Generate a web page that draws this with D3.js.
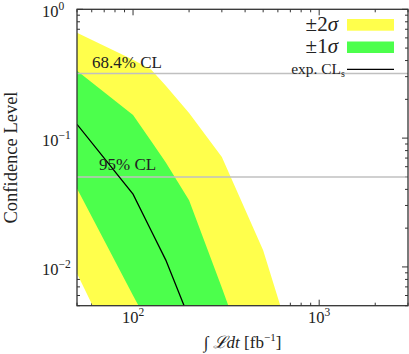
<!DOCTYPE html>
<html><head><meta charset="utf-8">
<script src="https://cdn.jsdelivr.net/npm/d3@7"></script>
<style>html,body{margin:0;padding:0;background:#fff;}svg{display:block;}</style>
</head><body>
<script>
// Integrated luminosity sample points (fb^-1)
const lumi   = [50, 100, 125, 150, 200, 300, 500, 700];
// +2 sigma / -2 sigma band edges
const up2    = [0.658, 0.405, 0.341, 0.255, 0.157, 0.0714, 0.0135, 0.0028];
const dn2    = [0.0089, 0.00113, 0.0006, 0.0003, 0.0001, 0.00003, 0.00001, 0.000003];
// +1 sigma / -1 sigma band edges
const up1    = [0.333, 0.151, 0.095, 0.0647, 0.033, 0.0069, 0.0009, 0.0003];
const dn1    = [0.0406, 0.0060, 0.0033, 0.0020, 0.0009, 0.0003, 0.0001, 0.00003];
// expected CLs median
const median = [0.128, 0.0367, 0.0192, 0.0113, 0.0040, 0.0008, 0.0001, 0.00003];
// reference CL lines
const clLines = [{v: 0.317, label: "68.4% CL"}, {v: 0.05, label: "95% CL"}];
const xMajor = [100, 1000];
const yMajor = [1, 0.1, 0.01];

const W = 409, H = 354;
const L = 77, T = 9.3, R = 408, B = 305.7;
const col2 = "#ffff4c", col1 = "#4cff4c", frame = "#333";

const svg = d3.select("body").append("svg").attr("width", W).attr("height", H);
const x = d3.scaleLog().domain([50, 3000]).range([L, R]);
const y = d3.scaleLog().domain([0.005, 1]).range([B, T]);

svg.append("clipPath").attr("id", "clip").append("rect")
  .attr("x", L).attr("y", T).attr("width", R - L).attr("height", B - T);

// ticks (drawn below fills)
const ticks = svg.append("g").attr("stroke", frame).attr("stroke-width", 1);
const xt = x.ticks().filter(v => v >= 50 && v <= 3000);
xt.forEach(v => {
  const major = xMajor.includes(v);
  const len = major ? 6 : 3;
  ticks.append("line").attr("x1", x(v)).attr("x2", x(v)).attr("y1", B).attr("y2", B - len);
  ticks.append("line").attr("x1", x(v)).attr("x2", x(v)).attr("y1", T).attr("y2", T + len);
});
const yt = y.ticks().filter(v => v >= 0.005 && v <= 1);
yt.forEach(v => {
  const major = yMajor.some(m => Math.abs(m - v) / m < 1e-6);
  const len = major ? 6 : 3;
  ticks.append("line").attr("y1", y(v)).attr("y2", y(v)).attr("x1", L).attr("x2", L + len);
  ticks.append("line").attr("y1", y(v)).attr("y2", y(v)).attr("x1", R).attr("x2", R - len);
});

const plot = svg.append("g").attr("clip-path", "url(#clip)");
const idx = d3.range(lumi.length);
const band = (lo, hi) => d3.area().x(i => x(lumi[i])).y0(i => y(lo[i])).y1(i => y(hi[i]));
plot.append("path").attr("d", band(dn2, up2)(idx)).attr("fill", col2);
plot.append("path").attr("d", band(dn1, up1)(idx)).attr("fill", col1);

clLines.forEach(c => {
  plot.append("line").attr("x1", L).attr("x2", R).attr("y1", y(c.v)).attr("y2", y(c.v))
    .attr("stroke", "#c0c0c0").attr("stroke-width", 1.5);
});
plot.append("path")
  .attr("d", d3.line().x(i => x(lumi[i])).y(i => y(median[i]))(idx))
  .attr("fill", "none").attr("stroke", "#000").attr("stroke-width", 1.3);

const font = "'Liberation Serif', 'Times New Roman', serif";
// CL labels
svg.append("text").attr("x", 92).attr("y", 68).attr("font-family", font).attr("font-size", 17)
  .attr("fill", "#222").text(clLines[0].label);
svg.append("text").attr("x", 99).attr("y", 170).attr("font-family", font).attr("font-size", 17)
  .attr("fill", "#222").text(clLines[1].label);

// frame
svg.append("rect").attr("x", L).attr("y", T).attr("width", R - L).attr("height", B - T)
  .attr("fill", "none").attr("stroke", frame).attr("stroke-width", 1.3);

// tick labels
xMajor.forEach(v => {
  const e = Math.round(Math.log10(v));
  const t = svg.append("text").attr("x", x(v)).attr("y", 323).attr("text-anchor", "middle")
    .attr("font-family", font).attr("font-size", 16.5).attr("fill", "#222");
  t.append("tspan").text("10");
  t.append("tspan").attr("font-size", 11.5).attr("dy", -7).text(String(e));
});
yMajor.forEach(v => {
  const e = Math.round(Math.log10(v));
  const t = svg.append("text").attr("x", 42).attr("y", y(v) + 7.7)
    .attr("font-family", font).attr("font-size", 16.5).attr("fill", "#222");
  t.append("tspan").text("10");
  t.append("tspan").attr("font-size", 11.5).attr("dy", -7).text(e === 0 ? "0" : "\u2212" + Math.abs(e));
});

// axis titles
const xl = svg.append("text").attr("x", (L + R) / 2).attr("y", 348).attr("text-anchor", "middle")
  .attr("font-family", font).attr("font-size", 17).attr("fill", "#222");
xl.append("tspan").text("\u222B ");
xl.append("tspan").attr("font-style", "italic").text("\u2112dt");
xl.append("tspan").text(" [fb");
xl.append("tspan").attr("font-size", 11).attr("dy", -7).text("\u22121");
xl.append("tspan").attr("dy", 7).text("]");

svg.append("text").attr("transform", `translate(17,${(T + B) / 2}) rotate(-90)`)
  .attr("text-anchor", "middle").attr("font-family", font).attr("font-size", 18.5)
  .attr("fill", "#222").text("Confidence Level");

// legend
const lg = svg.append("g");
lg.append("text").attr("x", 338).attr("y", 30.5).attr("text-anchor", "end")
  .attr("font-family", font).attr("font-size", 21).attr("fill", "#222")
  .html("\u00B12<tspan font-style='italic'>\u03C3</tspan>");
lg.append("rect").attr("x", 347).attr("y", 19).attr("width", 47).attr("height", 11.7).attr("fill", col2);
lg.append("text").attr("x", 338).attr("y", 52.5).attr("text-anchor", "end")
  .attr("font-family", font).attr("font-size", 21).attr("fill", "#222")
  .html("\u00B11<tspan font-style='italic'>\u03C3</tspan>");
lg.append("rect").attr("x", 347).attr("y", 41.5).attr("width", 47).attr("height", 11.5).attr("fill", col1);
const et = lg.append("text").attr("x", 345).attr("y", 73.5).attr("text-anchor", "end")
  .attr("font-family", font).attr("font-size", 15.5).attr("fill", "#222");
et.append("tspan").text("exp. CL");
et.append("tspan").attr("font-size", 10).attr("dy", 3).text("s");
lg.append("line").attr("x1", 347).attr("x2", 394).attr("y1", 69.3).attr("y2", 69.3)
  .attr("stroke", "#000").attr("stroke-width", 1.3);
</script>
</body></html>
